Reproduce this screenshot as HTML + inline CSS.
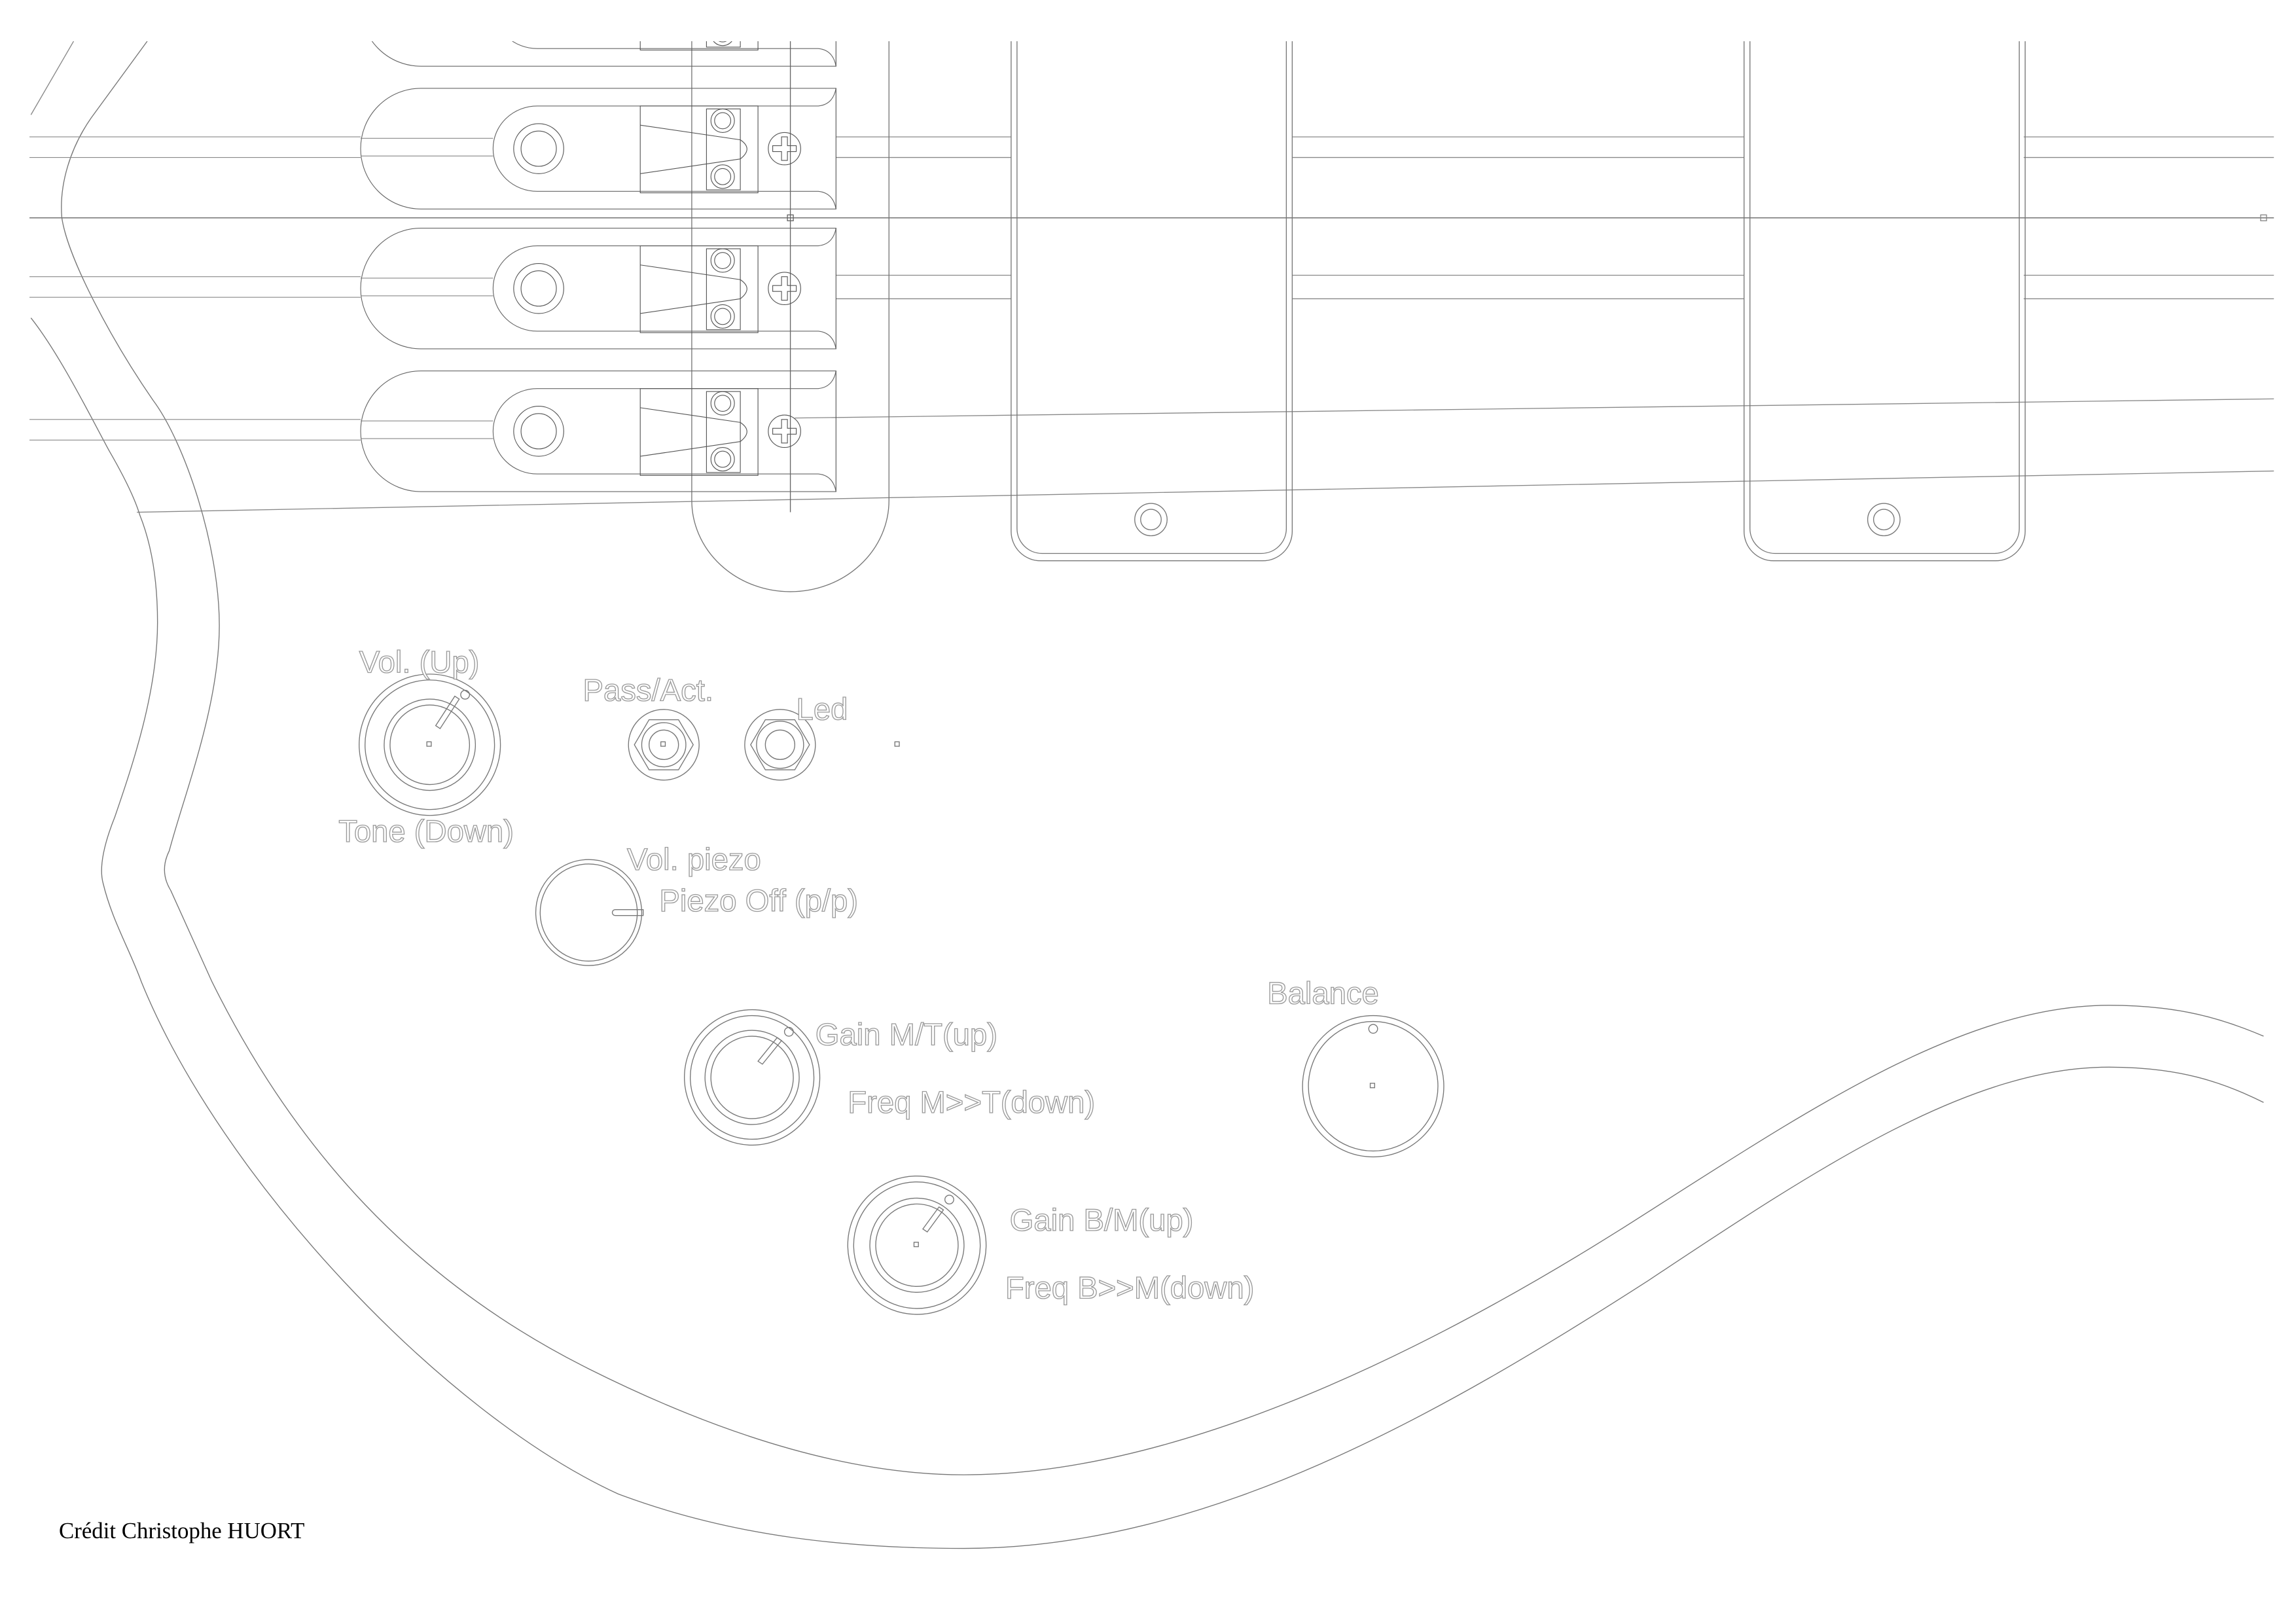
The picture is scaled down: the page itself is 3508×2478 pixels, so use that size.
<!DOCTYPE html>
<html><head><meta charset="utf-8"><style>
html,body{margin:0;padding:0;background:#fff;}
svg{display:block;}
.t{font-family:"Liberation Sans",sans-serif;font-size:21px;fill:#fff;stroke:#9a9a9a;stroke-width:0.6;}
</style></head><body>
<svg width="3508" height="2478" viewBox="0 0 1560 1102" xmlns="http://www.w3.org/2000/svg">
<defs>
<g id="saddle" fill="none" stroke="#555" stroke-width="0.5">
  <path d="M568,-41 L286,-41 A41,41 0 0 0 286,41 L568,41 Q566,30 556,29 L365,29 A30,29 0 0 1 365,-29 L556,-29 Q566,-30 568,-41 Z" stroke="#666"/>
  <line x1="568" y1="-41" x2="568" y2="41"/>
  <line x1="20" y1="-8" x2="245" y2="-8" stroke="#888"/>
  <line x1="20" y1="6" x2="245" y2="6" stroke="#888"/>
  <line x1="245" y1="-7" x2="335" y2="-7" stroke="#888"/>
  <line x1="245" y1="5" x2="335" y2="5" stroke="#888"/>
  <circle cx="366" cy="0" r="17"/><circle cx="366" cy="0" r="12"/>
  <rect x="435" y="-29" width="80" height="59"/>
  <rect x="480" y="-27" width="23" height="55"/>
  <circle cx="491" cy="-19" r="8"/><circle cx="491" cy="-19" r="5.5"/>
  <circle cx="491" cy="19" r="8"/><circle cx="491" cy="19" r="5.5"/>
  <path d="M435,-16 L503,-6 Q512,0 503,7 L435,17"/>
  <circle cx="533" cy="0" r="11"/>
  <path d="M531,-8 h4 v6 h6 v4 h-6 v6 h-4 v-6 h-6 v-4 h6 z"/>
</g>
<g id="pk" fill="none" stroke="#777" stroke-width="0.6">
  <path d="M0,28 V361 A20,20 0 0 0 20,381 H171 A20,20 0 0 0 191,361 V28"/>
  <path d="M4,28 V359 A17,17 0 0 0 21,376 H170 A17,17 0 0 0 187,359 V28"/>
  <circle cx="95" cy="353" r="11"/><circle cx="95" cy="353" r="7"/>
</g>
</defs>
<g fill="none" stroke="#888" stroke-width="0.6">
  <line x1="568" y1="93" x2="687" y2="93"/><line x1="878" y1="93" x2="1185" y2="93"/><line x1="1375" y1="93" x2="1545" y2="93"/>
  <line x1="568" y1="107" x2="687" y2="107"/><line x1="878" y1="107" x2="1185" y2="107"/><line x1="1375" y1="107" x2="1545" y2="107"/>
  <line x1="20" y1="148" x2="1545" y2="148" stroke="#666"/>
  <line x1="568" y1="187" x2="687" y2="187"/><line x1="878" y1="187" x2="1185" y2="187"/><line x1="1375" y1="187" x2="1545" y2="187"/>
  <line x1="568" y1="203" x2="687" y2="203"/><line x1="878" y1="203" x2="1185" y2="203"/><line x1="1375" y1="203" x2="1545" y2="203"/>
  <line x1="540" y1="284" x2="1545" y2="271"/>
  <line x1="93" y1="348" x2="1545" y2="320"/>
  <path d="M21,78 L50,28"/>
  <path d="M100,28 L62,80 C48,100 40,125 42,148 C46,175 75,230 104,272 C125,300 149,370 149,425 C149,480 125,540 115,578 Q108,592 116,605 L144,667 C200,780 280,870 400,930 C480,970 570,1002 655,1002 C790,1002 950,930 1100,836 C1220,760 1330,683 1433,683 C1480,683 1510,692 1538,704" stroke="#777"/>
  <path d="M21,216 C40,240 60,280 74,306 C85,325 92,340 95,350 C103,370 107,395 107,423 C107,470 90,520 78,555 Q66,585 70,600 C76,625 88,645 96,667 C150,800 300,960 420,1015 C500,1045 580,1052 655,1052 C820,1052 980,960 1120,870 C1240,790 1340,725 1433,725 C1480,725 1510,735 1538,749" stroke="#777"/>
  <path d="M470,0 V340 A67,62 0 0 0 604,340 V0" stroke="#777"/>
  <line x1="537" y1="0" x2="537" y2="348" stroke="#666"/>
  <rect x="535" y="146" width="4" height="4" stroke="#666"/>
  <rect x="1536" y="146" width="4" height="4" stroke="#888"/>
</g>
<use href="#saddle" transform="translate(0,4)"/>
<use href="#saddle" transform="translate(0,101)"/>
<use href="#saddle" transform="translate(0,196)"/>
<use href="#saddle" transform="translate(0,293)"/>
<rect x="0" y="0" width="1560" height="28" fill="#fff"/>
<use href="#pk" transform="translate(687,0)"/>
<use href="#pk" transform="translate(1185,0)"/>

<g fill="none" stroke="#777" stroke-width="0.6">
  <circle cx="292" cy="506" r="48"/><circle cx="292" cy="506" r="44"/>
  <circle cx="292" cy="506" r="31"/><circle cx="292" cy="506" r="27"/>
  <path d="M296,493 L309,473 L312,475 L299,495 Z"/><circle cx="316" cy="472" r="3"/>
  <rect x="290" y="504" width="3" height="3"/>
  <circle cx="451" cy="506" r="24"/>
  <polygon points="471,506 461,523 441,523 431,506 441,489 461,489"/>
  <circle cx="451" cy="506" r="15"/><circle cx="451" cy="506" r="10"/>
  <rect x="449" y="504" width="3" height="3"/>
  <circle cx="530" cy="506" r="24"/>
  <polygon points="550,506 540,523 520,523 510,506 520,489 540,489"/>
  <circle cx="530" cy="506" r="16"/><circle cx="530" cy="506" r="10"/>
  <rect x="608" y="504" width="3" height="3"/>
  <circle cx="400" cy="620" r="36"/><circle cx="400" cy="620" r="33"/>
  <path d="M418,618 H437 V622 H418 A2,2 0 0 1 418,618 Z"/>
  <circle cx="511" cy="732" r="46"/><circle cx="511" cy="732" r="42"/>
  <circle cx="511" cy="732" r="32"/><circle cx="511" cy="732" r="28"/>
  <path d="M515,721 L528,705 L531,707 L518,723 Z"/><circle cx="536" cy="701" r="3"/>
  <circle cx="933" cy="738" r="48"/><circle cx="933" cy="738" r="44"/>
  <circle cx="933" cy="699" r="3"/><rect x="931" y="736" width="3" height="3"/>
  <circle cx="623" cy="846" r="47"/><circle cx="623" cy="846" r="43"/>
  <circle cx="623" cy="846" r="32"/><circle cx="623" cy="846" r="28"/>
  <path d="M627,835 L638,820 L641,822 L630,837 Z"/><circle cx="645" cy="815" r="3"/>
  <rect x="621" y="844" width="3" height="3"/>
</g>
<g class="t">
  <text x="244" y="457">Vol. (Up)</text>
  <text x="230" y="572">Tone (Down)</text>
  <text x="396" y="476">Pass/Act.</text>
  <text x="541" y="489">Led</text>
  <text x="426" y="591">Vol. piezo</text>
  <text x="448" y="619">Piezo Off (p/p)</text>
  <text x="554" y="710">Gain M/T(up)</text>
  <text x="576" y="756">Freq M&gt;&gt;T(down)</text>
  <text x="861" y="682">Balance</text>
  <text x="686" y="836">Gain B/M(up)</text>
  <text x="683" y="882">Freq B&gt;&gt;M(down)</text>
</g>
<text x="40" y="1045" font-family="Liberation Serif, serif" font-size="15.5" fill="#000">Crédit Christophe HUORT</text>
</svg>
</body></html>
